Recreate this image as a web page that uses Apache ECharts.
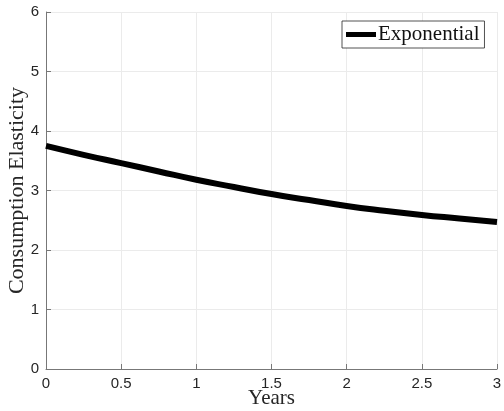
<!DOCTYPE html>
<html><head><meta charset="utf-8">
<script src="https://cdn.jsdelivr.net/npm/echarts@6/dist/echarts.min.js"></script>
<style>html,body{margin:0;padding:0;background:#fff}#c{width:504px;height:411px}</style>
</head><body><div id="c"></div>
<script>
const years = [0, 0.25, 0.5, 0.75, 1, 1.25, 1.5, 1.75, 2, 2.25, 2.5, 2.75, 3];
const elasticity = [3.75, 3.60, 3.46, 3.32, 3.18, 3.06, 2.94, 2.84, 2.74, 2.66, 2.59, 2.53, 2.47];
const seriesName = 'Exponential';
const xTitle = 'Years';
const yTitle = 'Consumption Elasticity';

const chart = echarts.init(document.getElementById('c'));
chart.setOption({
  animation: false,
  grid: {left: 46, right: 7, top: 12, bottom: 42, containLabel: false, outerBoundsMode: 'none'},
  legend: {
    data: [{name: seriesName, icon: 'rect'}],
    left: 342, top: 21,
    itemWidth: 30, itemHeight: 5, itemGap: 4,
    padding: [3, 5, 3, 4],
    borderColor: '#262626', borderWidth: 0.8,
    backgroundColor: '#fff',
    textStyle: {fontFamily: 'Liberation Serif', fontSize: 21, color: '#111', padding: [0,0,0,-3]}
  },
  xAxis: {
    type: 'value', min: 0, max: 3, interval: 0.5,
    name: xTitle, nameLocation: 'middle', nameGap: 19, nameMoveOverlap: false,
    nameTextStyle: {fontFamily: 'Liberation Serif', fontSize: 21, color: '#262626'},
    axisLine: {show: true, onZero: false, lineStyle: {color: '#777', width: 1}},
    axisTick: {show: true, inside: true, length: 5, lineStyle: {color: '#777'}},
    axisLabel: {fontFamily: 'Liberation Sans', fontSize: 15, color: '#262626', margin: 7},
    splitLine: {show: true, lineStyle: {color: '#ebebeb', width: 1}}
  },
  yAxis: {
    type: 'value', min: 0, max: 6, interval: 1,
    name: yTitle, nameLocation: 'middle', nameGap: 18, nameMoveOverlap: false,
    nameTextStyle: {fontFamily: 'Liberation Serif', fontSize: 22, color: '#262626'},
    axisLine: {show: true, lineStyle: {color: '#777', width: 1}},
    axisTick: {show: true, inside: true, length: 5, lineStyle: {color: '#777'}},
    axisLabel: {fontFamily: 'Liberation Sans', fontSize: 15, color: '#262626', margin: 7},
    splitLine: {show: true, lineStyle: {color: '#ebebeb', width: 1}}
  },
  series: [{
    name: seriesName, type: 'line', smooth: true, showSymbol: false,
    data: years.map((x, i) => [x, elasticity[i]]),
    lineStyle: {color: '#000', width: 6},
    itemStyle: {color: '#000'}
  }]
});
</script></body></html>
